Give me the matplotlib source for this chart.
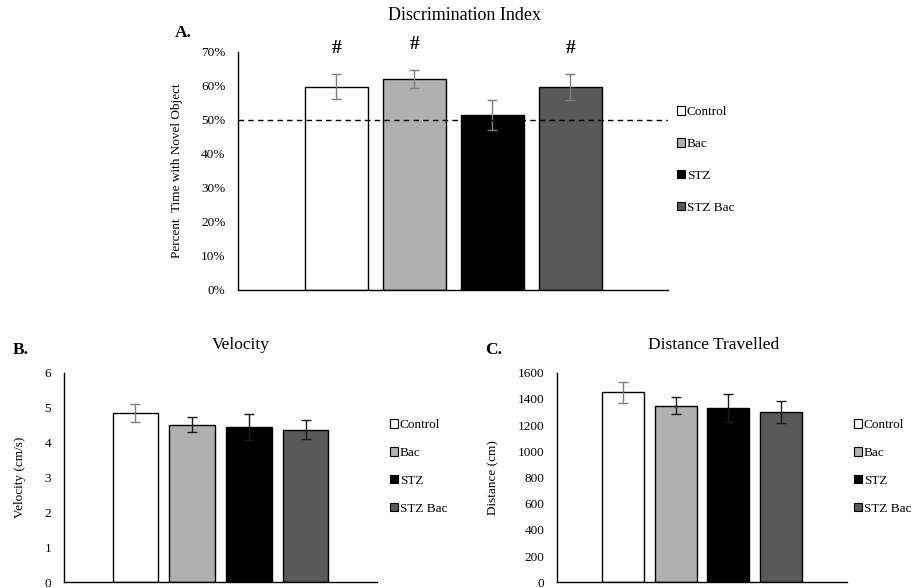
import matplotlib
matplotlib.use("Agg")
import matplotlib.pyplot as plt
from matplotlib.patches import Patch

plt.rcParams["font.family"] = ["Liberation Serif", "DejaVu Serif"]

GROUPS = ["Control", "Bac", "STZ", "STZ Bac"]
BAR_COLORS = ["#ffffff", "#b0b0b0", "#000000", "#595959"]

# A. discrimination index (percent)
di_mean = [59.8, 62.0, 51.5, 59.8]
di_err = [3.7, 2.7, 4.4, 3.8]
di_sig = ["#", "#", "", "#"]
chance_level = 50
di_ticks = [0, 10, 20, 30, 40, 50, 60, 70]

# B. velocity (cm/s)
vel_mean = [4.85, 4.51, 4.44, 4.37]
vel_err = [0.25, 0.21, 0.37, 0.27]
vel_ticks = [0, 1, 2, 3, 4, 5, 6]

# C. distance travelled (cm)
dist_mean = [1450, 1349, 1331, 1303]
dist_err = [78, 66, 110, 84]
dist_ticks = [0, 200, 400, 600, 800, 1000, 1200, 1400, 1600]

W, H = 919, 588


def px_box(left, top, right, bottom):
    return [left / W, 1 - bottom / H, (right - left) / W, (bottom - top) / H]


def bar_panel(fig, box, means, errs, err_colors, ticks, tick_fmt, ylabel,
              label_x):
    ax = fig.add_axes(box)
    xs = list(range(len(means)))
    ax.bar(xs, means, width=0.8, color=BAR_COLORS, edgecolor="black",
           linewidth=1.0, zorder=2)
    for x, m, e, c in zip(xs, means, errs, err_colors):
        ax.errorbar(x, m, yerr=e, fmt="none", ecolor=c, elinewidth=1.0,
                    capsize=3.5, capthick=1.0, zorder=3)
    ax.set_xlim(-1.26, 4.25)
    ax.set_ylim(ticks[0], ticks[-1])
    ax.set_yticks(ticks)
    ax.set_yticklabels([tick_fmt(t) for t in ticks])
    ax.set_xticks([])
    ax.tick_params(axis="y", length=0, pad=9, labelsize=9.5)
    for side in ["top", "right"]:
        ax.spines[side].set_visible(False)
    for side in ["left", "bottom"]:
        ax.spines[side].set_linewidth(1.0)
    ax.set_ylabel(ylabel, fontsize=9.5)
    ax.yaxis.set_label_coords(label_x, 0.5)
    return ax


def add_legend(fig, x, y, spacing):
    handles = [Patch(facecolor=c, edgecolor="black", linewidth=0.8)
               for c in BAR_COLORS]
    fig.legend(handles, GROUPS, loc="center left", bbox_to_anchor=(x, y),
               frameon=False, fontsize=9.5, handlelength=0.6,
               handleheight=0.6, handletextpad=0.15, labelspacing=spacing,
               borderpad=0, borderaxespad=0)


fig = plt.figure(figsize=(W / 100, H / 100), dpi=100)

# Panel A
ax_a = bar_panel(fig, px_box(238, 52, 668, 290), di_mean, di_err,
                 ["#7f7f7f"] * 4, di_ticks, lambda t: "%d%%" % t,
                 "Percent  Time with Novel Object", -0.127)
ax_a.axhline(chance_level, color="black", linestyle=(0, (4, 3)),
             linewidth=1.0, zorder=4)
for x, m, e, s in zip(range(4), di_mean, di_err, di_sig):
    if s:
        ax_a.text(x, m + e + 5, s, ha="center", va="bottom", fontsize=14,
                  fontweight="bold", clip_on=False)
add_legend(fig, 677 / W, 1 - 160 / H, 1.5)
fig.text(464 / W, 1 - 15 / H, "Discrimination Index", ha="center",
         va="center", fontsize=13)
fig.text(175 / W, 1 - 33 / H, "A.", ha="left", va="center", fontsize=12.5,
         fontweight="bold")

# Panel B
bar_panel(fig, px_box(63.7, 372.7, 376.7, 582.3), vel_mean, vel_err,
          ["#7f7f7f", "#1a1a1a", "#1a1a1a", "#1a1a1a"], vel_ticks,
          lambda t: "%d" % t, "Velocity (cm/s)", -0.12)
add_legend(fig, 390 / W, 1 - 467 / H, 1.2)
fig.text(241 / W, 1 - 345 / H, "Velocity", ha="center", va="center",
         fontsize=12.5)
fig.text(12.7 / W, 1 - 350 / H, "B.", ha="left", va="center", fontsize=12.5,
         fontweight="bold")

# Panel C
bar_panel(fig, px_box(557, 372.7, 846.7, 582.3), dist_mean, dist_err,
          ["#7f7f7f", "#1a1a1a", "#1a1a1a", "#1a1a1a"], dist_ticks,
          lambda t: "%d" % t, "Distance (cm)", -0.199)
add_legend(fig, 854 / W, 1 - 467 / H, 1.2)
fig.text(714 / W, 1 - 345 / H, "Distance Travelled", ha="center",
         va="center", fontsize=12.5)
fig.text(485 / W, 1 - 350 / H, "C.", ha="left", va="center", fontsize=12.5,
         fontweight="bold")

fig.savefig("out.png", dpi=100)
